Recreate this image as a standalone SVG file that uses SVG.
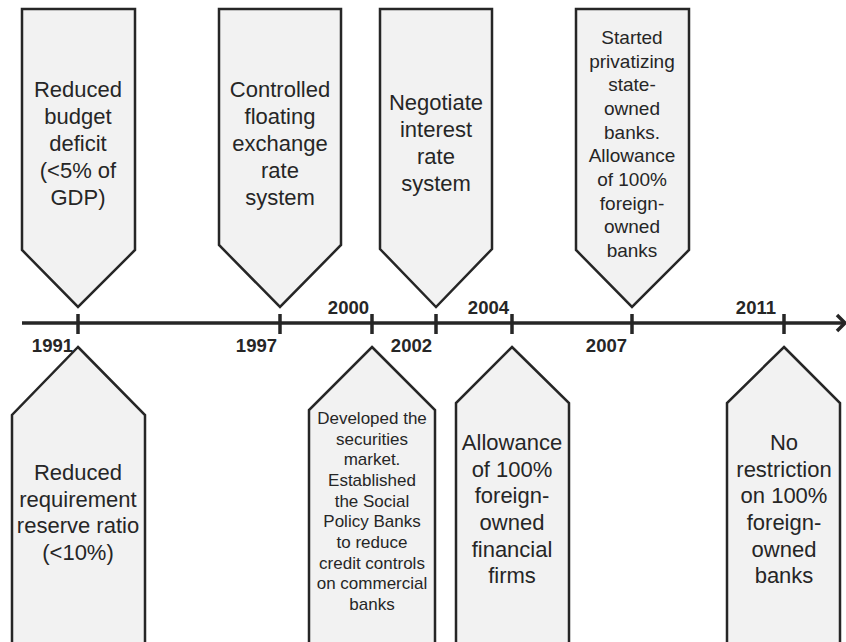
<svg xmlns="http://www.w3.org/2000/svg" width="846" height="642" viewBox="0 0 846 642">
<style>
.box{fill:#f2f2f2;stroke:#262626;stroke-width:2.5;stroke-linejoin:miter}
.t{font-family:"Liberation Sans",Arial,sans-serif;font-size:22px;fill:#262626;text-anchor:middle}
.s19{font-size:19px}
.s17{font-size:17px}
.yr{font-family:"Liberation Sans",Arial,sans-serif;font-size:18.5px;font-weight:bold;fill:#262626;text-anchor:end}
.ax{stroke:#262626;stroke-width:3.5;fill:none}
</style>
<rect width="846" height="642" fill="#ffffff"/>
<g id="connectors">
<line class="ax" x1="22" y1="323" x2="845" y2="323"/>
<polyline class="ax" points="837,315 845,323 837,331"/>
<line class="ax" x1="78" y1="314" x2="78" y2="334"/>
<line class="ax" x1="280" y1="314" x2="280" y2="334"/>
<line class="ax" x1="372" y1="314" x2="372" y2="334"/>
<line class="ax" x1="436" y1="314" x2="436" y2="334"/>
<line class="ax" x1="512" y1="314" x2="512" y2="334"/>
<line class="ax" x1="632" y1="314" x2="632" y2="334"/>
<line class="ax" x1="784" y1="314" x2="784" y2="334"/>
</g>
<g id="years">
<text class="yr" x="73" y="352">1991</text>
<text class="yr" x="277" y="352">1997</text>
<text class="yr" x="369" y="314">2000</text>
<text class="yr" x="432" y="352">2002</text>
<text class="yr" x="509" y="314">2004</text>
<text class="yr" x="627" y="352">2007</text>
<text class="yr" x="776" y="314">2011</text>
</g>
<g id="n1991top">
<path class="box" d="M22,9 H135 V250 L78,307 L22,250 Z"/>
<text class="t" x="78" y="97">Reduced</text>
<text class="t" x="78" y="124">budget</text>
<text class="t" x="78" y="151">deficit</text>
<text class="t" x="78" y="178">(&lt;5% of</text>
<text class="t" x="78" y="205">GDP)</text>
</g>
<g id="n1997top">
<path class="box" d="M219,9 H341 V245 L280,307 L219,245 Z"/>
<text class="t" x="280" y="97">Controlled</text>
<text class="t" x="280" y="124">floating</text>
<text class="t" x="280" y="151">exchange</text>
<text class="t" x="280" y="178">rate</text>
<text class="t" x="280" y="205">system</text>
</g>
<g id="n2002top">
<path class="box" d="M380,9 H492 V249 L436,307 L380,249 Z"/>
<text class="t" x="436" y="110">Negotiate</text>
<text class="t" x="436" y="137">interest</text>
<text class="t" x="436" y="164">rate</text>
<text class="t" x="436" y="191">system</text>
</g>
<g id="n2007top">
<path class="box" d="M576,9 H689 V250 L632,307 L576,250 Z"/>
<text class="t s19" x="632" y="44">Started</text>
<text class="t s19" x="632" y="68">privatizing</text>
<text class="t s19" x="632" y="91">state-</text>
<text class="t s19" x="632" y="115">owned</text>
<text class="t s19" x="632" y="139">banks.</text>
<text class="t s19" x="632" y="162">Allowance</text>
<text class="t s19" x="632" y="186">of 100%</text>
<text class="t s19" x="632" y="210">foreign-</text>
<text class="t s19" x="632" y="233">owned</text>
<text class="t s19" x="632" y="257">banks</text>
</g>
<g id="n1991bottom">
<path class="box" d="M78,347 L145,415 V646 H12 V415 Z"/>
<text class="t" x="78" y="480">Reduced</text>
<text class="t" x="78" y="507">requirement</text>
<text class="t" x="78" y="533">reserve ratio</text>
<text class="t" x="78" y="560">(&lt;10%)</text>
</g>
<g id="n2000bottom">
<path class="box" d="M372,347 L435,410 V646 H309 V410 Z"/>
<text class="t s17" x="372" y="424">Developed the</text>
<text class="t s17" x="372" y="445">securities</text>
<text class="t s17" x="372" y="465">market.</text>
<text class="t s17" x="372" y="486">Established</text>
<text class="t s17" x="372" y="507">the Social</text>
<text class="t s17" x="372" y="527">Policy Banks</text>
<text class="t s17" x="372" y="548">to reduce</text>
<text class="t s17" x="372" y="569">credit controls</text>
<text class="t s17" x="372" y="589">on commercial</text>
<text class="t s17" x="372" y="610">banks</text>
</g>
<g id="n2004bottom">
<path class="box" d="M512,347 L569,403 V646 H456 V403 Z"/>
<text class="t" x="512" y="450">Allowance</text>
<text class="t" x="512" y="477">of 100%</text>
<text class="t" x="512" y="503">foreign-</text>
<text class="t" x="512" y="530">owned</text>
<text class="t" x="512" y="557">financial</text>
<text class="t" x="512" y="583">firms</text>
</g>
<g id="n2011bottom">
<path class="box" d="M784,347 L840,403 V646 H727 V403 Z"/>
<text class="t" x="784" y="450">No</text>
<text class="t" x="784" y="477">restriction</text>
<text class="t" x="784" y="503">on 100%</text>
<text class="t" x="784" y="530">foreign-</text>
<text class="t" x="784" y="557">owned</text>
<text class="t" x="784" y="583">banks</text>
</g>
</svg>
